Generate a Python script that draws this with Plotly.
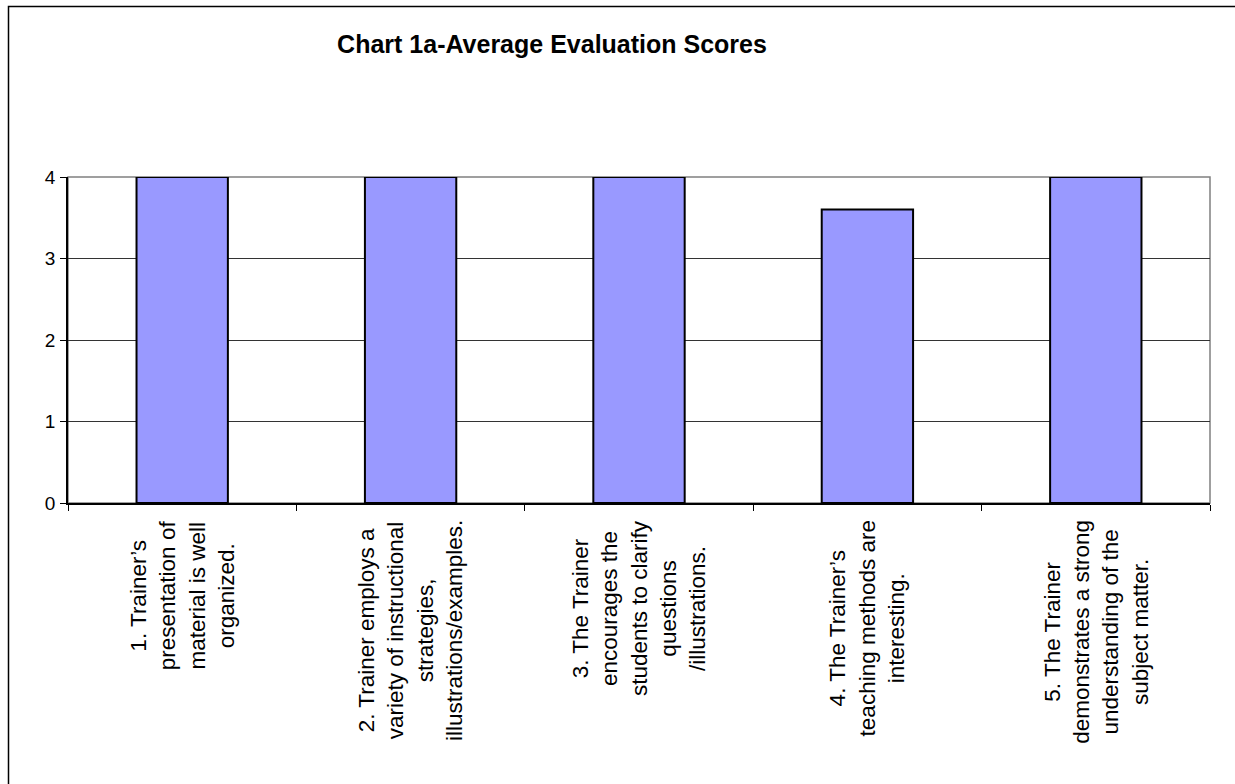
import plotly.graph_objects as go

categories = ["Q1", "Q2", "Q3", "Q4", "Q5"]
scores = [4, 4, 4, 3.6, 4]
labels = [
    "1. Trainer’s<br>presentation of<br>material is well<br>organized.",
    "2. Trainer employs a<br>variety of instructional<br>strategies,<br>illustrations/examples.",
    "3. The Trainer<br>encourages the<br>students to clarify<br>questions<br>/illustrations.",
    "4. The Trainer’s<br>teaching methods are<br>interesting.",
    "5. The Trainer<br>demonstrates a strong<br>understanding of the<br>subject matter.",
]
y_ticks = [0, 1, 2, 3, 4]
title_text = "Chart 1a-Average Evaluation Scores"

W, H = 1235, 784
L, R, T, B = 68, 25, 177, 281
pw = W - L - R
ph = H - T - B

FONT = "Liberation Sans, Arial, sans-serif"

fig = go.Figure()
fig.add_trace(go.Bar(
    x=categories, y=scores,
    marker=dict(color="#9999FF", line=dict(color="#000000", width=2)),
    hoverinfo="x+y",
))

annotations = []
for c, t in zip(categories, labels):
    annotations.append(dict(
        x=c, xref="x", y=0, yref="paper", yanchor="top", xanchor="center",
        yshift=-15, text=t, textangle=-90, showarrow=False, align="center",
        font=dict(family=FONT, size=22.5, color="#000000"),
    ))

def px_to_paper_x(px):
    return (px - L) / pw

def px_to_paper_y(py):
    return (H - B - py) / ph

shapes = [
    # plot area border (gray)
    dict(type="rect", xref="x domain", yref="y domain", x0=0, x1=1, y0=0, y1=1,
         line=dict(color="#808080", width=1.5), layer="below"),
    # outer chart frame
    dict(type="rect", xref="paper", yref="paper",
         x0=px_to_paper_x(8.5), x1=px_to_paper_x(W + 10),
         y0=px_to_paper_y(H + 10), y1=px_to_paper_y(6.5),
         line=dict(color="#000000", width=1.5), layer="below"),
]

fig.update_layout(
    width=W, height=H,
    margin=dict(l=L, r=R, t=T, b=B, autoexpand=False),
    paper_bgcolor="white", plot_bgcolor="white",
    bargap=0.6,
    showlegend=False,
    title=dict(text="<b>" + title_text + "</b>", x=552 / W, xref="container", xanchor="center",
               y=1 - 44 / H, yref="container", yanchor="middle",
               font=dict(family=FONT, size=25, color="#000000")),
    font=dict(family=FONT, color="#000000"),
    annotations=annotations,
    shapes=shapes,
)
fig.update_xaxes(
    type="category", showticklabels=False, showgrid=False, zeroline=False,
    showline=True, linecolor="#000000", linewidth=1.5,
    ticks="outside", ticklen=6, tickcolor="#000000", tickwidth=1.2,
    tickson="boundaries",
)
fig.update_yaxes(
    range=[0, 4], tickmode="array", tickvals=y_ticks, ticktext=[str(v) for v in y_ticks],
    showgrid=True, gridcolor="#333333", gridwidth=1, zeroline=False,
    showline=True, linecolor="#000000", linewidth=1.5,
    ticks="outside", ticklen=6, tickcolor="#000000", tickwidth=1.2,
    tickfont=dict(family=FONT, size=19, color="#000000"),
    ticklabelstandoff=1,
)

fig.write_html(
    "out.html",
    config={"displayModeBar": False},
    post_script="document.body.style.margin='0';document.body.style.padding='0';",
)
